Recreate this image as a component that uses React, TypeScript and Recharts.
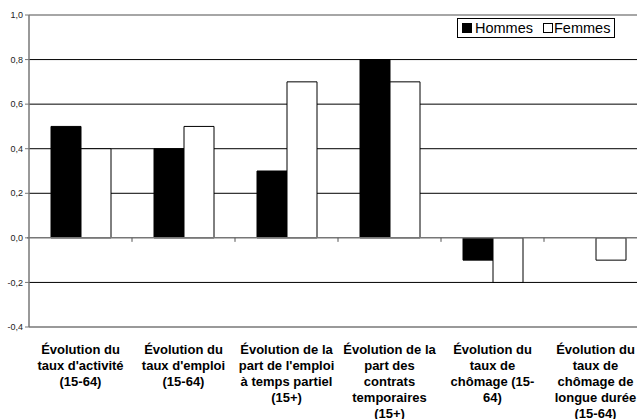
import React from 'react'
import {
  BarChart,
  Bar,
  XAxis,
  YAxis,
  CartesianGrid,
  ReferenceLine,
} from 'recharts'

// Category labels, already broken into lines like the source chart
const categories = [
  ['Évolution du', "taux d'activité", '(15-64)'],
  ['Évolution du', "taux d'emploi", '(15-64)'],
  ['Évolution de la', "part de l'emploi", 'à temps partiel', '(15+)'],
  ['Évolution de la', 'part des', 'contrats', 'temporaires', '(15+)'],
  ['Évolution du', 'taux de', 'chômage (15-', '64)'],
  ['Évolution du', 'taux de', 'chômage de', 'longue durée', '(15-64)'],
]
const hommes = [0.5, 0.4, 0.3, 0.8, -0.1, null]
const femmes = [0.4, 0.5, 0.7, 0.7, -0.2, -0.1]
const yTicks = [-0.4, -0.2, 0, 0.2, 0.4, 0.6, 0.8, 1.0]
const gridValues = [-0.2, 0.2, 0.4, 0.6, 0.8]

const data = categories.map((lines, i) => ({
  key: String(i),
  hommes: hommes[i],
  femmes: femmes[i],
}))

const FONT = 'Arial, "Liberation Sans", sans-serif'

function CategoryTick(props: any) {
  const { x, y, payload } = props
  const lines = categories[Number(payload.value)] || []
  return (
    <text
      x={x}
      y={y + 19}
      textAnchor="middle"
      fontFamily={FONT}
      fontSize={13}
      fontWeight="bold"
      fill="#000"
    >
      {lines.map((l, i) => (
        <tspan key={i} x={x} dy={i === 0 ? 0 : 16}>
          {l}
        </tspan>
      ))}
    </text>
  )
}

// zero line with small ticks between categories
function ZeroLine(props: any) {
  const { x1, x2, y1 } = props
  const n = categories.length
  const step = (x2 - x1) / n
  const marks = []
  for (let i = 1; i < n; i++) {
    const xx = x1 + step * i
    marks.push(<line key={i} x1={xx} x2={xx} y1={y1} y2={y1 + 4} stroke="#555" strokeWidth={1} />)
  }
  return (
    <g>
      <line x1={x1 - 2} x2={x2} y1={y1} y2={y1} stroke="#777" strokeWidth={1.5} />
      {marks}
    </g>
  )
}

function LegendBox() {
  return (
    <div
      style={{
        position: 'absolute',
        top: 18,
        left: 457,
        display: 'flex',
        alignItems: 'center',
        boxSizing: 'border-box',
        width: 158,
        height: 20,
        border: '1px solid #000',
        background: '#fff',
        padding: '0 0 0 4px',
        fontFamily: FONT,
        fontSize: 14.5,
        color: '#000',
        whiteSpace: 'nowrap',
      }}
    >
      <span style={{ width: 8, height: 8, background: '#000', border: '1px solid #000', marginRight: 3 }} />
      <span style={{ marginRight: 10 }}>Hommes</span>
      <span style={{ width: 8, height: 8, background: '#fff', border: '1px solid #000', marginRight: 1 }} />
      <span>Femmes</span>
    </div>
  )
}

export default function App() {
  return (
    <div
      style={{
        position: 'fixed',
        top: 0,
        left: 0,
        width: 637,
        height: 419,
        overflow: 'hidden',
        background: '#fff',
      }}
    >
      <BarChart
        width={660}
        height={419}
        data={data}
        margin={{ top: 15, right: 13, left: 0, bottom: 0 }}
        barSize={30}
        barGap={0}
      >
        <CartesianGrid
          horizontal
          vertical={false}
          stroke="#000"
          strokeWidth={1}
          horizontalValues={gridValues}
        />
        <ReferenceLine y={1.0} stroke="#888" strokeWidth={1.5} />
        <XAxis
          dataKey="key"
          height={92}
          tick={<CategoryTick />}
          tickLine={false}
          interval={0}
          axisLine={{ stroke: '#777', strokeWidth: 1.5 }}
        />
        <YAxis
          width={29}
          domain={[-0.4, 1.0]}
          ticks={yTicks}
          interval={0}
          tickSize={4}
          tickMargin={2}
          axisLine={{ stroke: '#777', strokeWidth: 1.5 }}
          tickLine={{ stroke: '#777' }}
          tick={{ fontSize: 9, fontFamily: FONT, fill: '#222' }}
          tickFormatter={(v: number) => v.toFixed(1).replace('.', ',')}
        />
        <Bar dataKey="hommes" name="Hommes" fill="#000" stroke="#000" isAnimationActive={false} />
        <Bar dataKey="femmes" name="Femmes" fill="#fff" stroke="#000" isAnimationActive={false} />
        <ReferenceLine y={0} shape={<ZeroLine />} />
      </BarChart>
      <LegendBox />
    </div>
  )
}
